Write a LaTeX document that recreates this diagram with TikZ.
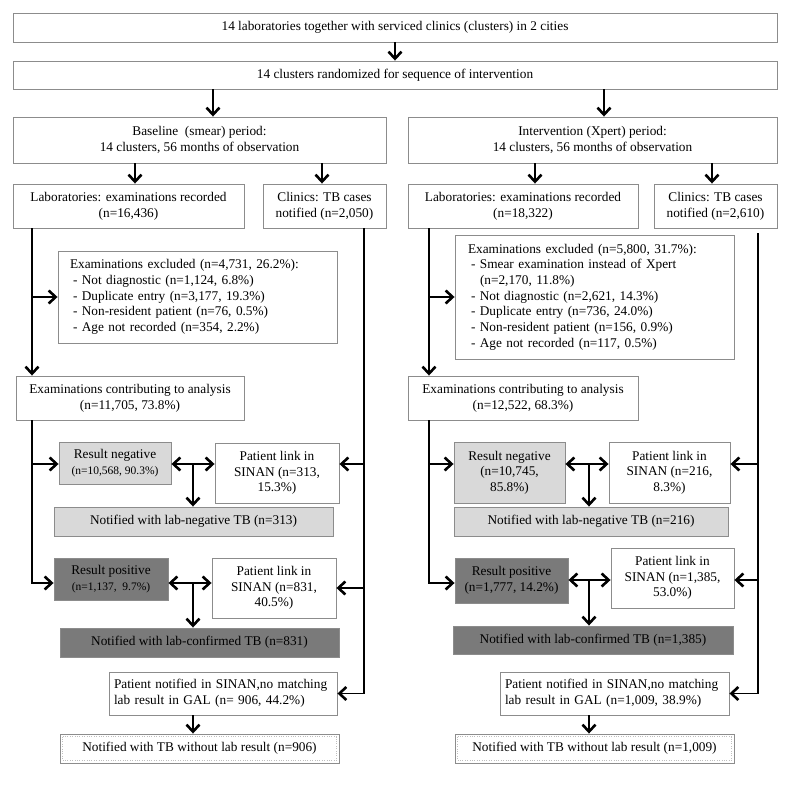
\documentclass[tikz,border=0pt]{standalone}
\usepackage{fontspec}
\setmainfont{Liberation Serif}
\usetikzlibrary{arrows.meta, positioning, calc}

\begin{document}
\begin{tikzpicture}[
    x=1pt, y=-1pt,
    box/.style={rectangle, draw=black!45, line width=0.9pt, inner sep=2pt, align=center, fill=white, font=\fontsize{13.3}{15.7}\selectfont},
    negbox/.style={box, fill=black!15},
    posbox/.style={box, fill=black!52},
    listbox/.style={box, align=left, inner xsep=12pt},
    line/.style={line width=1.5pt},
    arrow/.style={line, -{Straight Barb[length=7pt, width=13pt, line width=2.6pt]}},
    dblarrow/.style={line width=2.6pt, {Straight Barb[length=7pt, width=13pt]}-{Straight Barb[length=7pt, width=13pt]}}
]
    \useasboundingbox (0,0) rectangle (804,800);

    % Study population
    \node[box, minimum width=764pt, minimum height=29pt] (top) at (395,27.5) {14 laboratories together with serviced clinics (clusters) in 2 cities};
    \node[box, minimum width=764pt, minimum height=28pt] (rand) at (395,75) {14 clusters randomized for sequence of intervention};
    \node[box, minimum width=373pt, minimum height=46pt] (base) at (199.5,140) {Baseline~ (smear) period:\\14 clusters, 56 months of observation};
    \node[box, minimum width=369pt, minimum height=46pt] (interv) at (592.5,140) {Intervention (Xpert) period:\\14 clusters, 56 months of observation};

    % Column positions of connectors
    \coordinate (colBase) at (213,0);
    \coordinate (colInterv) at (604,0);
    \coordinate (colLabL) at (135,0);
    \coordinate (colCliL) at (322,0);
    \coordinate (colLabR) at (535,0);
    \coordinate (colCliR) at (712,0);
    \coordinate (spineL) at (32,0);
    \coordinate (cliLineL) at (364,0);
    \coordinate (jL) at (193,0);
    \coordinate (spineR) at (429,0);
    \coordinate (cliLineR) at (758,0);
    \coordinate (jR) at (589,0);
    \coordinate (rowNegL) at (0,464);
    \coordinate (rowPosL) at (0,583);
    \coordinate (rowNegR) at (0,464);
    \coordinate (rowPosR) at (0,580);

    \draw[arrow] (top) -- (rand);
    \draw[arrow] (colBase |- rand.south) -- (colBase |- base.north);
    \draw[arrow] (colInterv |- rand.south) -- (colInterv |- interv.north);

    % Baseline (smear) period
    \node[box, minimum width=231pt, minimum height=44pt] (labL) at (128.5,206) {Laboratories: examinations recorded\\(n=16,436)};
    \node[box, minimum width=123pt, minimum height=44pt] (cliL) at (324.5,206) {Clinics: TB cases\\notified (n=2,050)};
    \node[listbox, text width=255pt, minimum height=92pt] (exclL) at (197.5,297) {Examinations excluded (n=4,731, 26.2\%):\\
        \hspace*{3pt}- Not diagnostic (n=1,124, 6.8\%)\\
        \hspace*{3pt}- Duplicate entry (n=3,177, 19.3\%)\\
        \hspace*{3pt}- Non-resident patient (n=76, 0.5\%)\\
        \hspace*{3pt}- Age not recorded (n=354, 2.2\%)};
    \node[box, minimum width=228pt, minimum height=44pt] (contribL) at (130,398) {Examinations contributing to analysis\\(n=11,705, 73.8\%)};
    \node[negbox, minimum width=112pt, minimum height=42pt] (negL) at (115,463) {Result negative\\{\fontsize{11.5}{14}\selectfont (n=10,568, 90.3\%)}};
    \node[box, minimum width=124pt, minimum height=60pt] (linkNegL) at (277,473) {Patient link in\\SINAN (n=313,\\15.3\%)};
    \node[negbox, minimum width=279pt, minimum height=29pt] (notNegL) at (193.5,521.5) {Notified with lab-negative TB (n=313)};
    \node[posbox, minimum width=114pt, minimum height=42pt] (posL) at (111,579) {Result positive\\{\fontsize{11.5}{14}\selectfont (n=1,137,~ 9.7\%)}};
    \node[box, minimum width=124pt, minimum height=60pt] (linkPosL) at (274,588) {Patient link in\\SINAN (n=831,\\40.5\%)};
    \node[posbox, minimum width=279pt, minimum height=29pt] (notPosL) at (199.5,642.5) {Notified with lab-confirmed TB (n=831)};
    \node[box, align=left, inner xsep=5pt, text width=218pt, minimum height=43pt] (unmL) at (223,693.5) {Patient notified in SINAN,no matching\\lab result in GAL (n= 906, 44.2\%)};
    \node[box, minimum width=279pt, minimum height=29pt] (finL) at (199.5,748.5) {Notified with TB without lab result (n=906)};
    \draw[dotted, black!25] ([shift={(3pt,-3pt)}]finL.north west) rectangle ([shift={(-3pt,3pt)}]finL.south east);

    \draw[arrow] (colLabL |- base.south) -- (colLabL |- labL.north);
    \draw[arrow] (colCliL |- base.south) -- (colCliL |- cliL.north);
    \draw[arrow] (spineL |- labL.south) -- (spineL |- contribL.north);
    \draw[arrow] (spineL |- exclL.west) -- (exclL.west);
    \draw[arrow] (spineL |- contribL.south) |- (posL.west |- rowPosL);
    \draw[arrow] (spineL |- rowNegL) -- (negL.west |- rowNegL);
    \draw[arrow] (cliLineL |- cliL.south) |- (unmL.east);
    \draw[arrow] (cliLineL |- rowNegL) -- (linkNegL.east |- rowNegL);
    \draw[arrow] (cliLineL |- linkPosL.east) -- (linkPosL.east);
    \draw[dblarrow] (negL.east |- rowNegL) -- (linkNegL.west |- rowNegL);
    \draw[arrow, line width=2.6pt] (jL |- rowNegL) -- (jL |- notNegL.north);
    \draw[dblarrow] (posL.east |- rowPosL) -- (linkPosL.west |- rowPosL);
    \draw[arrow, line width=2.6pt] (jL |- rowPosL) -- (jL |- notPosL.north);
    \draw[arrow] (jL |- unmL.south) -- (jL |- finL.north);

    % Intervention (Xpert) period
    \node[box, minimum width=230pt, minimum height=44pt] (labR) at (523,206) {Laboratories: examinations recorded\\(n=18,322)};
    \node[box, minimum width=123pt, minimum height=44pt] (cliR) at (715.5,206) {Clinics: TB cases\\notified (n=2,610)};
    \node[listbox, inner xsep=13pt, text width=253pt, minimum height=124pt] (exclR) at (594.5,297) {Examinations excluded (n=5,800, 31.7\%):\\
        \hspace*{3pt}- Smear examination instead of Xpert\\
        \hspace*{12pt}(n=2,170, 11.8\%)\\
        \hspace*{3pt}- Not diagnostic (n=2,621, 14.3\%)\\
        \hspace*{3pt}- Duplicate entry (n=736, 24.0\%)\\
        \hspace*{3pt}- Non-resident patient (n=156, 0.9\%)\\
        \hspace*{3pt}- Age not recorded (n=117, 0.5\%)};
    \node[box, minimum width=230pt, minimum height=44pt] (contribR) at (523,398) {Examinations contributing to analysis\\(n=12,522, 68.3\%)};
    \node[negbox, minimum width=111pt, minimum height=61pt] (negR) at (509.5,472.5) {Result negative\\(n=10,745,\\85.8\%)};
    \node[box, minimum width=121pt, minimum height=61pt] (linkNegR) at (669.5,472.5) {Patient link in\\SINAN (n=216,\\8.3\%)};
    \node[negbox, minimum width=274pt, minimum height=29pt] (notNegR) at (591,521.5) {Notified with lab-negative TB (n=216)};
    \node[posbox, minimum width=113pt, minimum height=45pt] (posR) at (511.5,580.5) {Result positive\\(n=1,777, 14.2\%)};
    \node[box, minimum width=123pt, minimum height=60pt] (linkPosR) at (672.5,578) {Patient link in\\SINAN (n=1,385,\\53.0\%)};
    \node[posbox, minimum width=280pt, minimum height=28pt] (notPosR) at (593,640) {Notified with lab-confirmed TB (n=1,385)};
    \node[box, align=left, inner xsep=5pt, text width=219pt, minimum height=43pt] (unmR) at (614.5,693.5) {Patient notified in SINAN,no matching\\lab result in GAL (n=1,009, 38.9\%)};
    \node[box, minimum width=279pt, minimum height=29pt] (finR) at (594.5,748.5) {Notified with TB without lab result (n=1,009)};
    \draw[dotted, black!25] ([shift={(3pt,-3pt)}]finR.north west) rectangle ([shift={(-3pt,3pt)}]finR.south east);

    \draw[arrow] (colLabR |- interv.south) -- (colLabR |- labR.north);
    \draw[arrow] (colCliR |- interv.south) -- (colCliR |- cliR.north);
    \draw[arrow] (spineR |- labR.south) -- (spineR |- contribR.north);
    \draw[arrow] (spineR |- exclR.west) -- (exclR.west);
    \draw[arrow] (spineR |- contribR.south) |- (posR.west |- rowPosL);
    \draw[arrow] (spineR |- rowNegR) -- (negR.west |- rowNegR);
    \draw[arrow] ([yshift=-5pt]cliLineR |- cliR.south) |- (unmR.east);
    \draw[arrow] (cliLineR |- rowNegR) -- (linkNegR.east |- rowNegR);
    \draw[arrow] (cliLineR |- rowPosR) -- (linkPosR.east |- rowPosR);
    \draw[dblarrow] (negR.east |- rowNegR) -- (linkNegR.west |- rowNegR);
    \draw[arrow, line width=2.6pt] (jR |- rowNegR) -- (jR |- notNegR.north);
    \draw[dblarrow] (posR.east |- rowPosR) -- (linkPosR.west |- rowPosR);
    \draw[arrow, line width=2.6pt] (jR |- rowPosR) -- (jR |- notPosR.north);
    \draw[arrow] (jR |- unmR.south) -- (jR |- finR.north);

\end{tikzpicture}
\end{document}
